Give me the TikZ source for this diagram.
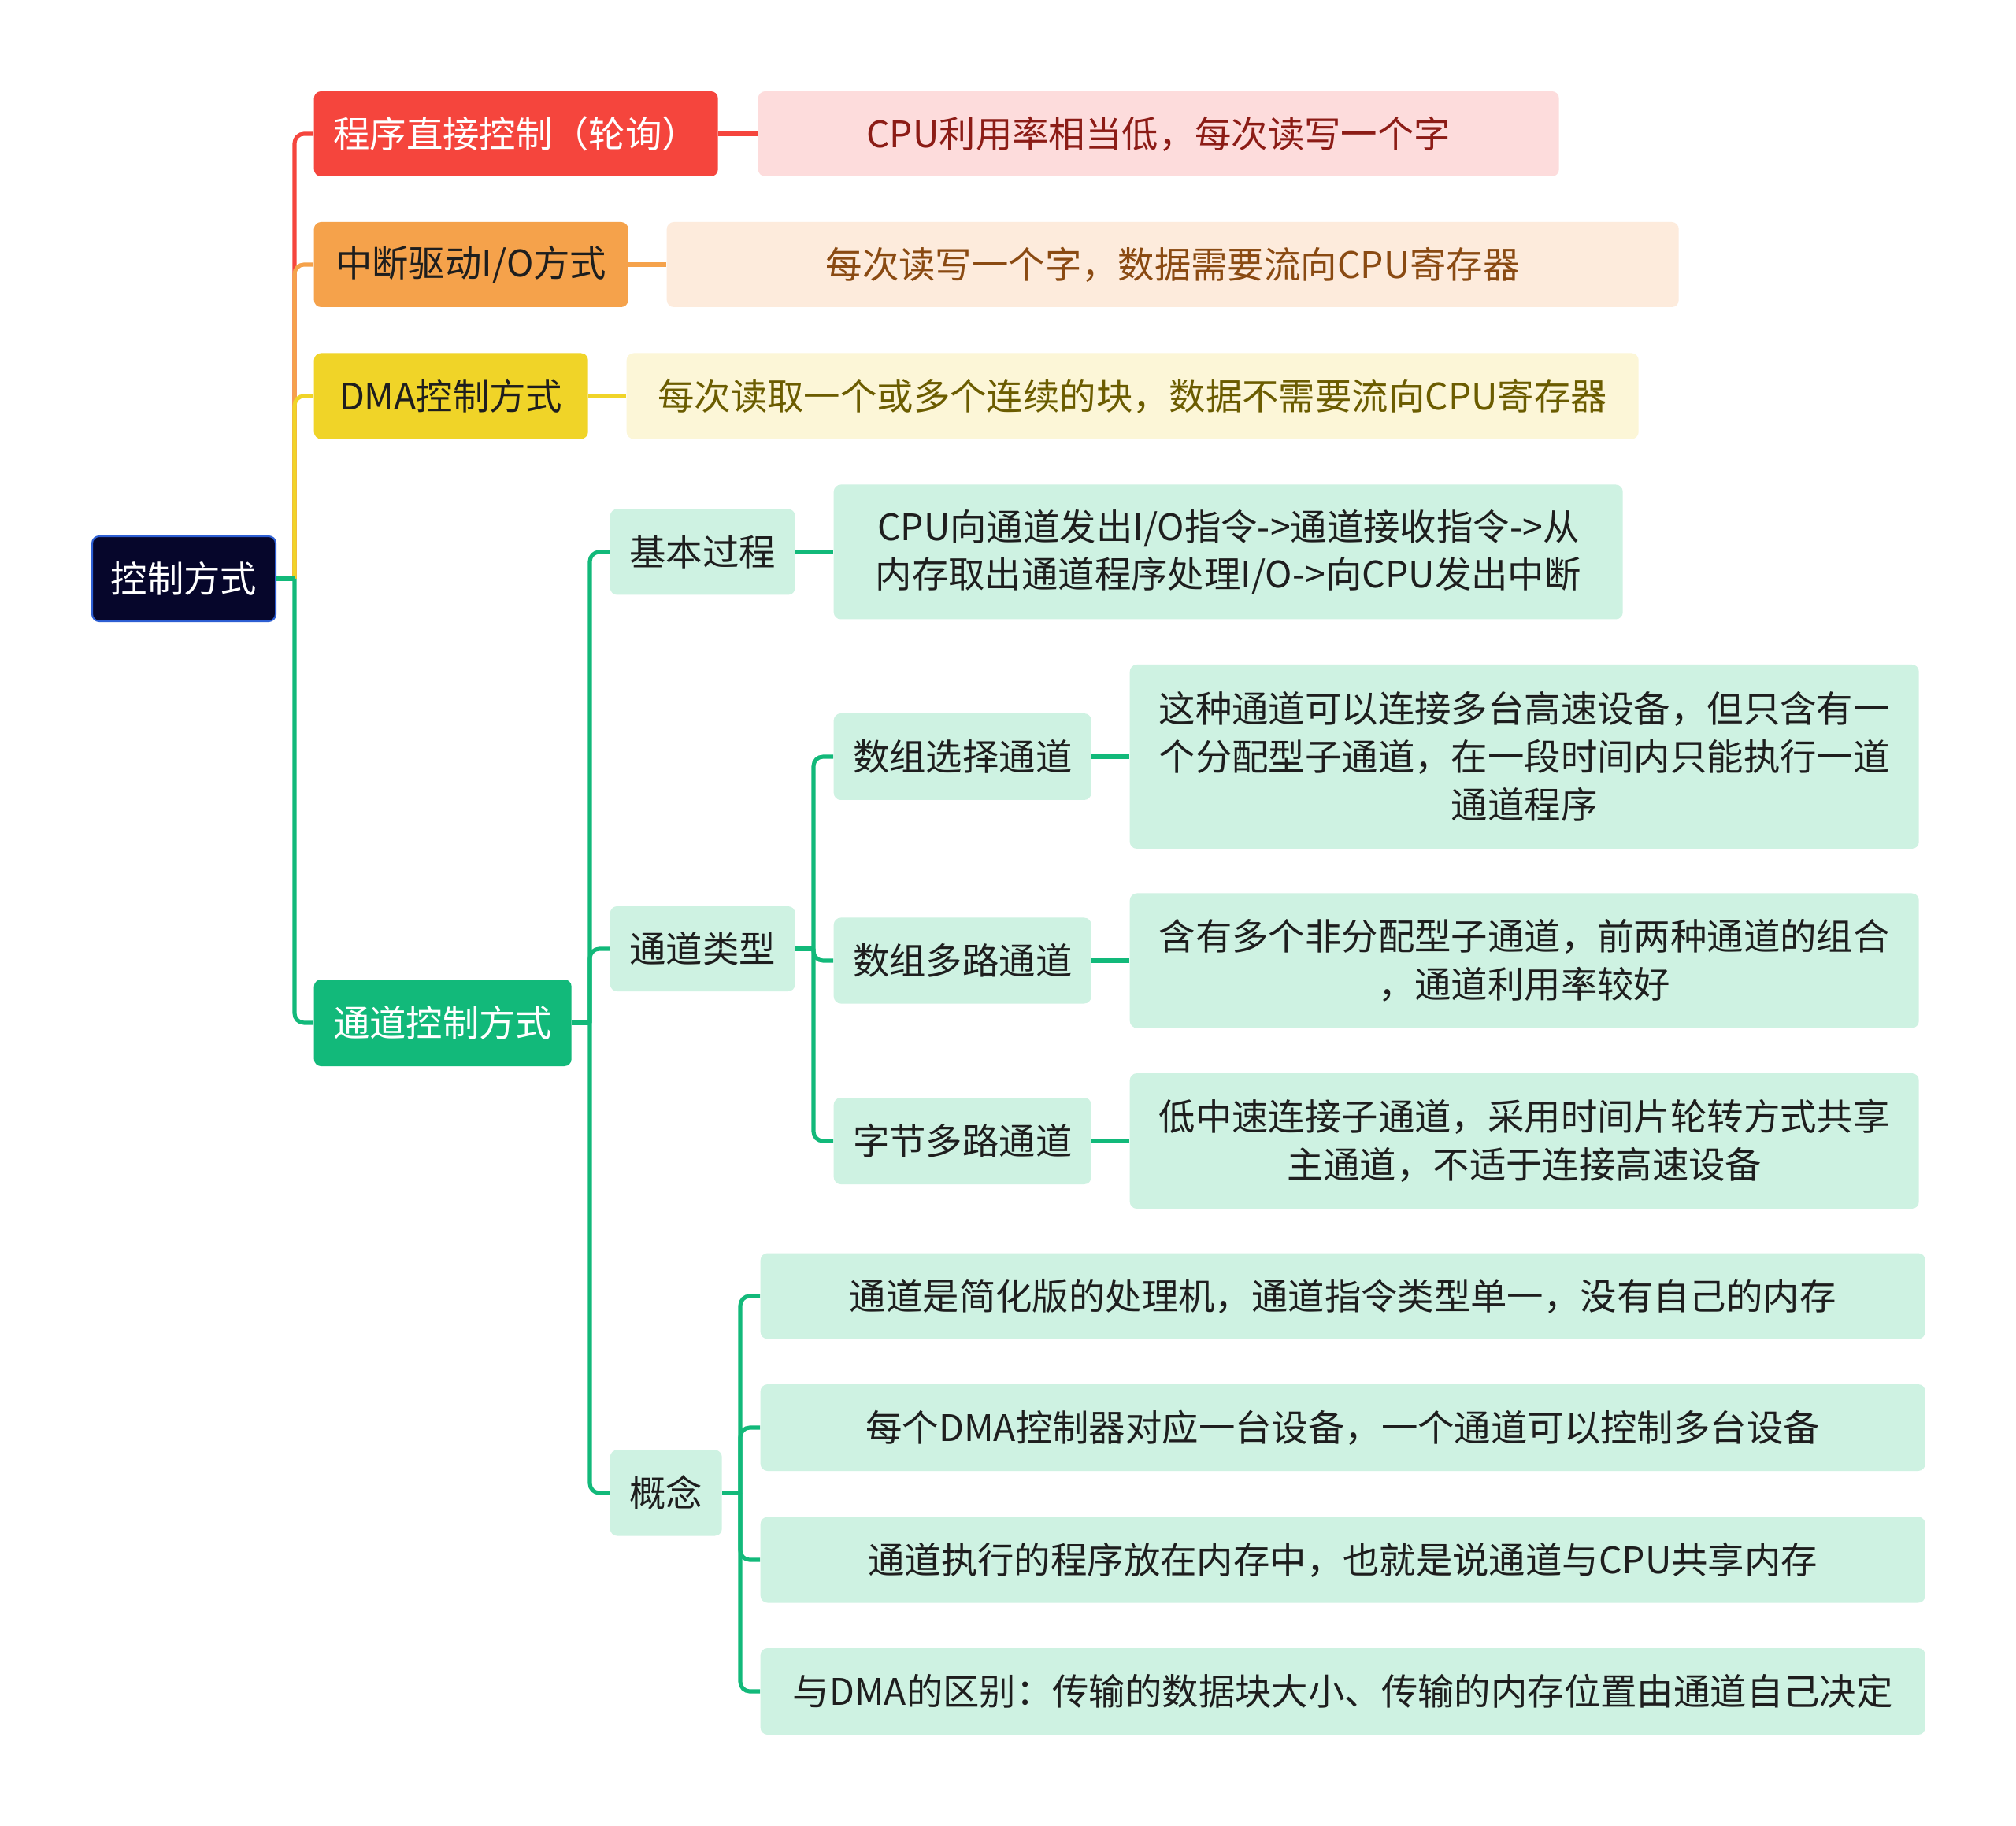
\documentclass[tikz,border=0pt]{standalone}
\usepackage{fontspec}
\setmainfont{Noto Sans CJK SC}
\definecolor{rootfill}{HTML}{06062B}
\definecolor{rootline}{HTML}{2E5FD3}
\definecolor{redc}{HTML}{F5453D}
\definecolor{redleaf}{HTML}{FDDCDC}
\definecolor{redtext}{HTML}{8C1C16}
\definecolor{orangec}{HTML}{F5A24B}
\definecolor{orangeleaf}{HTML}{FDEBDC}
\definecolor{orangetext}{HTML}{8A4A12}
\definecolor{yellowc}{HTML}{F0D428}
\definecolor{yellowleaf}{HTML}{FCF6D7}
\definecolor{yellowtext}{HTML}{6B5C00}
\definecolor{greenc}{HTML}{12B97A}
\definecolor{greenleaf}{HTML}{CEF2E2}
\definecolor{darktext}{HTML}{1E1E1E}
\begin{document}
\begin{tikzpicture}[x=1cm,y=-1cm,
  base/.style={rounded corners=0.09cm, inner sep=0pt, anchor=west, align=center,
    font=\fontsize{13.2pt}{17.3pt}\selectfont},
  sz/.style 2 args={minimum width=#1cm, minimum height=#2cm},
  rootbox/.style={base, fill=rootfill, draw=rootline, line width=0.6pt, text=white},
  redbox/.style={base, fill=redc, text=white},
  redleafbox/.style={base, fill=redleaf, text=redtext},
  orangebox/.style={base, fill=orangec, text=darktext},
  orangeleafbox/.style={base, fill=orangeleaf, text=orangetext},
  yellowbox/.style={base, fill=yellowc, text=darktext},
  yellowleafbox/.style={base, fill=yellowleaf, text=yellowtext},
  greenbox/.style={base, fill=greenc, text=white},
  greenleafbox/.style={base, fill=greenleaf, text=darktext},
  link/.style={line width=1.45pt, rounded corners=0.12cm}]
\useasboundingbox[fill=white] (0,0) rectangle (25.6,23.19);

% root and first level
\node[rootbox, sz={2.33}{1.08}] (root) at (1.16,7.35) {控制方式};
\node[redbox, sz={5.13}{1.08}] (poll) at (3.98,1.70) {程序直接控制（轮询）};
\node[orangebox, sz={3.99}{1.08}] (intr) at (3.98,3.36) {中断驱动I/O方式};
\node[yellowbox, sz={3.48}{1.09}] (dma) at (3.98,5.03) {DMA控制方式};
\node[greenbox, sz={3.27}{1.10}] (chan) at (3.98,12.99) {通道控制方式};

% leaves of the first three
\node[redleafbox, sz={10.17}{1.08}] (pollx) at (9.62,1.70) {CPU利用率相当低，每次读写一个字};
\node[orangeleafbox, sz={12.85}{1.08}] (intrx) at (8.46,3.36) {每次读写一个字，数据需要流向CPU寄存器};
\node[yellowleafbox, sz={12.85}{1.09}] (dmax) at (7.95,5.03) {每次读取一个或多个连续的块，数据不需要流向CPU寄存器};

% channel subtree
\node[greenleafbox, sz={2.35}{1.09}] (proc) at (7.74,7.01) {基本过程};
\node[greenleafbox, sz={10.02}{1.71}] (procx) at (10.58,7.01) {CPU向通道发出I/O指令->通道接收指令->从\\内存取出通道程序处理I/O->向CPU发出中断};
\node[greenleafbox, sz={2.35}{1.08}] (kind) at (7.74,12.05) {通道类型};
\node[greenleafbox, sz={3.27}{1.10}] (sel) at (10.58,9.61) {数组选择通道};
\node[greenleafbox, sz={10.02}{2.34}] (selx) at (14.34,9.61) {这种通道可以连接多台高速设备，但只含有一\\个分配型子通道，在一段时间内只能执行一道\\通道程序};
\node[greenleafbox, sz={3.27}{1.09}] (multi) at (10.58,12.20) {数组多路通道};
\node[greenleafbox, sz={10.02}{1.71}] (multix) at (14.34,12.20) {含有多个非分配型子通道，前两种通道的组合\\，通道利用率较好};
\node[greenleafbox, sz={3.27}{1.10}] (byte) at (10.58,14.49) {字节多路通道};
\node[greenleafbox, sz={10.02}{1.72}] (bytex) at (14.34,14.49) {低中速连接子通道，采用时间片轮转方式共享\\主通道，不适于连接高速设备};
\node[greenleafbox, sz={1.42}{1.09}] (idea) at (7.74,18.96) {概念};
\node[greenleafbox, sz={14.79}{1.09}] (idea1) at (9.65,16.46) {通道是简化版的处理机，通道指令类型单一，没有自己的内存};
\node[greenleafbox, sz={14.79}{1.10}] (idea2) at (9.65,18.13) {每个DMA控制器对应一台设备，一个通道可以控制多台设备};
\node[greenleafbox, sz={14.79}{1.09}] (idea3) at (9.65,19.81) {通道执行的程序放在内存中，也就是说通道与CPU共享内存};
\node[greenleafbox, sz={14.79}{1.10}] (idea4) at (9.65,21.48) {与DMA的区别：传输的数据块大小、传输的内存位置由通道自己决定};

% junctions
\coordinate (j0) at (3.74,7.35);
\coordinate (j1) at (7.49,12.99);
\coordinate (j2) at (10.33,12.05);
\coordinate (j3) at (9.40,18.96);

% connectors
\draw[link, redc] (j0) |- (poll.west);
\draw[link, orangec] (j0) |- (intr.west);
\draw[link, yellowc] (j0) |- (dma.west);
\draw[link, greenc] (j0) |- (chan.west);
\draw[link, greenc] (root.east) -- (j0);
\draw[link, redc] (poll.east) -- (pollx.west);
\draw[link, orangec] (intr.east) -- (intrx.west);
\draw[link, yellowc] (dma.east) -- (dmax.west);

\draw[link, greenc] (chan.east) -- (j1);
\draw[link, greenc] (j1) |- (proc.west);
\draw[link, greenc] (j1) |- (kind.west);
\draw[link, greenc] (j1) |- (idea.west);
\draw[link, greenc] (proc.east) -- (procx.west);

\draw[link, greenc] (kind.east) -- (j2);
\draw[link, greenc] (j2) |- (sel.west);
\draw[link, greenc] (j2) |- (multi.west);
\draw[link, greenc] (j2) |- (byte.west);
\draw[link, greenc] (sel.east) -- (selx.west);
\draw[link, greenc] (multi.east) -- (multix.west);
\draw[link, greenc] (byte.east) -- (bytex.west);

\draw[link, greenc] (idea.east) -- (j3);
\foreach \k in {idea1,idea2,idea3,idea4}
  \draw[link, greenc] (j3) |- (\k.west);
\end{tikzpicture}
\end{document}
